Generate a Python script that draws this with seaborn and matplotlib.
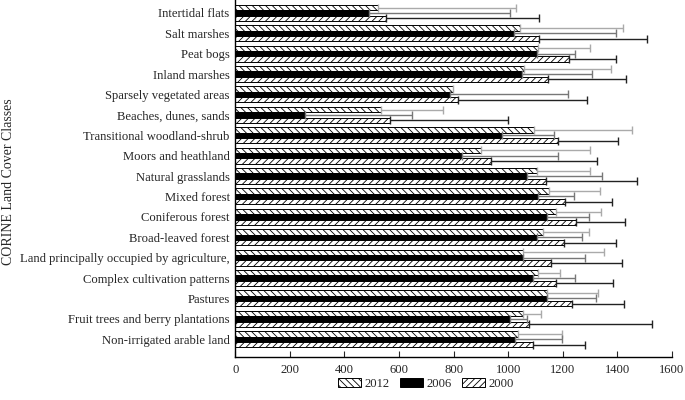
import numpy as np
import pandas as pd
import matplotlib
matplotlib.use("Agg")
import matplotlib.pyplot as plt
import seaborn as sns

# land cover classes, top to bottom
classes = [
    "Intertidal flats", "Salt marshes", "Peat bogs", "Inland marshes",
    "Sparsely vegetated areas", "Beaches, dunes, sands",
    "Transitional woodland-shrub", "Moors and heathland", "Natural grasslands",
    "Mixed forest", "Coniferous forest", "Broad-leaved forest",
    "Land principally occupied by agriculture,", "Complex cultivation patterns",
    "Pastures", "Fruit trees and berry plantations", "Non-irrigated arable land",
]
years = ["2012", "2006", "2000"]

# mean values per year
val_2012 = [524, 1044, 1109, 1059, 797, 533, 1096, 901, 1107, 1150, 1176, 1129, 1055, 1110, 1142, 1053, 1037]
val_2006 = [489, 1020, 1106, 1051, 787, 255, 977, 832, 1068, 1108, 1141, 1106, 1055, 1090, 1141, 1007, 1024]
val_2000 = [551, 1114, 1224, 1146, 817, 567, 1181, 938, 1139, 1209, 1248, 1206, 1157, 1175, 1235, 1077, 1090]

# one-sided error bars (plus only)
err_2012 = [506, 378, 192, 317, np.nan, 229, 356, 398, 194, 188, 164, 168, 295, 81, 188, 67, 161]
err_2006 = [519, 373, 140, 256, 433, 391, 190, 351, 276, 133, 154, 164, 228, 155, 180, 61, 172]
err_2000 = [562, 395, 172, 287, 471, 432, 220, 389, 333, 173, 178, 190, 259, 208, 189, 449, 193]

values = {"2012": val_2012, "2006": val_2006, "2000": val_2000}
errors = {"2012": err_2012, "2006": err_2006, "2000": err_2000}

df = pd.DataFrame({
    "cls": classes * 3,
    "year": [y for y in years for _ in classes],
    "value": val_2012 + val_2006 + val_2000,
})

sns.set_style("ticks")
plt.rcParams["font.family"] = ["Liberation Serif", "DejaVu Serif"]
plt.rcParams["hatch.linewidth"] = 0.6

fig = plt.figure(figsize=(6.85, 4.0), dpi=100)
ax = fig.add_axes([235.3 / 685, 1 - 357 / 400, (672 - 235.3) / 685, 357 / 400])

sns.barplot(data=df, y="cls", x="value", hue="year", hue_order=years,
            order=classes, orient="h", errorbar=None, width=0.78,
            palette=["white", "black", "white"], edgecolor="black",
            linewidth=0.7, ax=ax)

hatches = {"2012": "\\\\\\\\\\", "2006": "", "2000": "/////"}
ecolors = {"2012": "#aaaaaa", "2006": "#777777", "2000": "#222222"}

for year, cont in zip(years, ax.containers):
    centers = []
    for p in cont.patches:
        p.set_hatch(hatches[year])
        centers.append(p.get_y() + p.get_height() / 2)
    v = np.array(values[year], dtype=float)
    e = np.array(errors[year], dtype=float)
    ax.errorbar(v, centers, xerr=[np.zeros_like(e), e], fmt="none",
                ecolor=ecolors[year], elinewidth=1.0, capsize=3, capthick=1.0)

ax.set_xlim(0, 1600)
ax.set_ylim(16.87, -0.63)
ax.set_xticks(range(0, 1601, 200))
ax.tick_params(axis="x", direction="in", length=4, labelsize=9.1, pad=5)
ax.tick_params(axis="y", length=0, labelsize=9.1, pad=4)
ax.set_xlabel("")
ax.set_ylabel("")
sns.despine(ax=ax)
for s in ["left", "bottom"]:
    ax.spines[s].set_linewidth(1.0)
    ax.spines[s].set_color("black")

fig.text(0.012, 0.545, "CORINE Land Cover Classes", rotation=90,
         ha="center", va="center", fontsize=10)

handles, labels = ax.get_legend_handles_labels()
ax.get_legend().remove()
for h, y in zip(handles, years):
    h.set_hatch(hatches[y])
fig.legend(handles, labels, loc="center", bbox_to_anchor=(0.622, 0.04),
           ncol=3, frameon=False, fontsize=9.1, handlelength=1.8,
           handleheight=0.65, handletextpad=0.3, columnspacing=0.8)

fig.savefig("out.png", dpi=100)
